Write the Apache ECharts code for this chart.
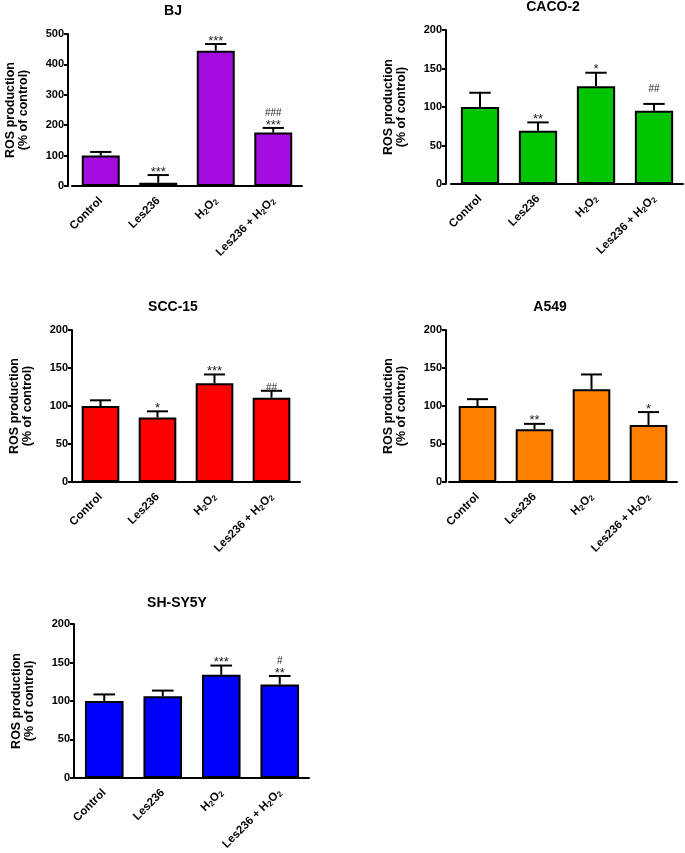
<!DOCTYPE html>
<html>
<head>
<meta charset="utf-8">
<script src="https://cdn.jsdelivr.net/npm/echarts@6/dist/echarts.min.js"></script>
<style>
html,body{margin:0;padding:0;background:#fff;}
#chart{width:685px;height:853px;}
</style>
</head>
<body>
<div id="chart"></div>
<script>
// ---- data ----
const categories = ['Control', 'Les236', 'H2O2', 'Les236 + H2O2'];
const panelTitles = ['BJ', 'CACO-2', 'SCC-15', 'A549', 'SH-SY5Y'];

const bjMean = [100, 11, 445, 176];
const bjErrTop = [112, 36, 467, 191];
const bjSig = ['', '***', '***', '###\n***'];

const cacoMean = [100, 69, 127, 95];
const cacoErrTop = [118.5, 80, 144.5, 104];
const cacoSig = ['', '**', '*', '##\n '];

const sccMean = [100, 85, 130, 111];
const sccErrTop = [107.5, 93, 141.5, 120];
const sccSig = ['', '*', '***', '##'];

const a549Mean = [100, 69.5, 122, 75];
const a549ErrTop = [109, 76.5, 141.5, 92];
const a549Sig = ['', '**', '', '*'];

const shMean = [100, 106, 134, 121.5];
const shErrTop = [108.5, 113.5, 146, 132.5];
const shSig = ['', '', '***', '#\n**'];

const bjTicks = {min: 0, max: 500, interval: 100};
const otherTicks = {min: 0, max: 200, interval: 50};

// ---- layout / style ----
const panels = [
  {title: panelTitles[0], mean: bjMean, err: bjErrTop, sig: bjSig, ticks: bjTicks, color: '#A50CE0',
   grid: {left: 72, top: 34, width: 230, height: 152}, yOffset: 4, titlePos: [173, 4]},
  {title: panelTitles[1], mean: cacoMean, err: cacoErrTop, sig: cacoSig, ticks: otherTicks, color: '#00C400',
   grid: {left: 451, top: 30, width: 232, height: 154}, yOffset: 5, titlePos: [553, 0]},
  {title: panelTitles[2], mean: sccMean, err: sccErrTop, sig: sccSig, ticks: otherTicks, color: '#FF0000',
   grid: {left: 72, top: 330, width: 228, height: 152}, yOffset: 0, titlePos: [173, 300]},
  {title: panelTitles[3], mean: a549Mean, err: a549ErrTop, sig: a549Sig, ticks: otherTicks, color: '#FF8000',
   grid: {left: 449, top: 330, width: 228, height: 152}, yOffset: 3, titlePos: [550, 300]},
  {title: panelTitles[4], mean: shMean, err: shErrTop, sig: shSig, ticks: otherTicks, color: '#0000FF',
   grid: {left: 75, top: 624, width: 234, height: 156.5}, yOffset: 1, titlePos: [177, 596]}
];

const FONT = 'Arial, "Liberation Sans", Helvetica, sans-serif';
const BAR_FRAC = 0.66;

function fmtCat(v) {
  return v.replace(/H2O2/g, '{n|H}{s|2}{n|O}{s|2}');
}

function fmtSig(t) {
  return t.split('\n').map(line => {
    if (line.indexOf('*') >= 0) return '{a|' + line + '}';
    if (line.indexOf('#') >= 0) return '{h|' + line + '}';
    return '{h| }';
  }).join('\n');
}

const option = {
  animation: false,
  backgroundColor: '#fff',
  title: [], grid: [], xAxis: [], yAxis: [], series: []
};

panels.forEach((p, i) => {
  option.title.push({
    text: p.title, left: p.titlePos[0], top: p.titlePos[1], textAlign: 'center', padding: 0,
    textStyle: {fontFamily: FONT, fontWeight: 'bold', fontSize: 14, color: '#000'}
  });
  option.grid.push(Object.assign({containLabel: false}, p.grid));
  option.xAxis.push({
    type: 'category', gridIndex: i, data: categories,
    axisLine: {lineStyle: {color: '#000', width: 2}},
    axisTick: {alignWithLabel: true, length: 4, lineStyle: {color: '#000', width: 2}},
    axisLabel: {
      rotate: 45, margin: 13, interval: 0, color: '#000', fontFamily: FONT, fontWeight: 'bold', fontSize: 11.5,
      formatter: fmtCat,
      rich: {
        n: {fontFamily: FONT, fontWeight: 'bold', fontSize: 11.5, color: '#000'},
        s: {fontFamily: FONT, fontWeight: 'bold', fontSize: 8, color: '#000', verticalAlign: 'bottom', padding: [5, 0, 0, 0]}
      }
    },
    splitLine: {show: false}
  });
  option.yAxis.push({
    type: 'value', gridIndex: i, min: p.ticks.min, max: p.ticks.max, interval: p.ticks.interval,
    offset: p.yOffset,
    name: 'ROS production\n(% of control)', nameLocation: 'middle', nameGap: 38, nameRotate: 90,
    nameTextStyle: {fontFamily: FONT, fontWeight: 'bold', fontSize: 12.5, color: '#000', lineHeight: 13},
    axisLine: {show: true, lineStyle: {color: '#000', width: 2}},
    axisTick: {show: true, length: 4, lineStyle: {color: '#000', width: 2}},
    axisLabel: {color: '#000', fontFamily: FONT, fontWeight: 'bold', fontSize: 11, margin: 4},
    splitLine: {show: false}
  });
  option.series.push({
    type: 'bar', xAxisIndex: i, yAxisIndex: i, data: p.mean, barWidth: (BAR_FRAC * 100) + '%',
    itemStyle: {color: p.color, borderColor: '#000', borderWidth: 2},
    z: 2
  });
  const sig = p.sig;
  option.series.push({
    type: 'custom', xAxisIndex: i, yAxisIndex: i, z: 3,
    data: p.mean.map((m, k) => [k, m, p.err[k]]),
    renderItem: function (params, api) {
      const idx = api.value(0);
      const pBase = api.coord([idx, api.value(1)]);
      const pTop = api.coord([idx, api.value(2)]);
      const band = api.size([1, 0])[0];
      const hw = band * BAR_FRAC * 0.28;
      const ls = {stroke: '#000', lineWidth: 2};
      const children = [
        {type: 'line', shape: {x1: pBase[0], y1: pBase[1], x2: pTop[0], y2: pTop[1]}, style: ls},
        {type: 'line', shape: {x1: pTop[0] - hw, y1: pTop[1], x2: pTop[0] + hw, y2: pTop[1]}, style: ls}
      ];
      const t = sig[params.dataIndex];
      if (t) {
        children.push({
          type: 'text',
          x: pTop[0], y: pTop[1] + 3,
          style: {
            text: fmtSig(t), textAlign: 'center', textVerticalAlign: 'bottom',
            rich: {
              a: {fontFamily: FONT, fontSize: 13, fill: '#222', lineHeight: 12},
              h: {fontFamily: FONT, fontSize: 10, fill: '#222', lineHeight: 12}
            }
          }
        });
      }
      return {type: 'group', children: children};
    }
  });
});

const chart = echarts.init(document.getElementById('chart'), null, {renderer: 'canvas'});
chart.setOption(option);
</script>
</body>
</html>
